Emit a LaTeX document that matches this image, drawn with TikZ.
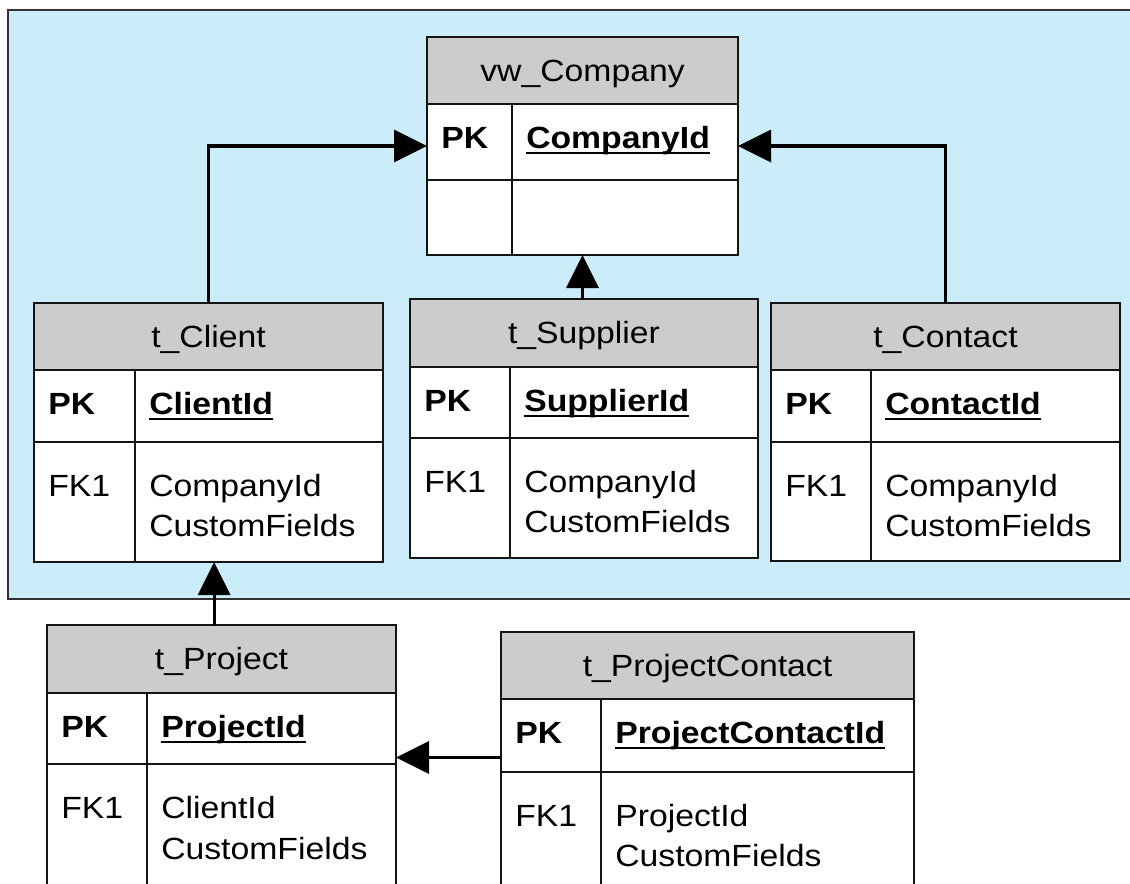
\documentclass[tikz,border=0pt]{standalone}
\usepackage{fontspec}
\setmainfont{Liberation Sans}[FakeStretch=1.1]
\usetikzlibrary{arrows.meta,fit}
\definecolor{bluebg}{RGB}{203,237,249}
\definecolor{hdrgray}{RGB}{204,204,204}
\definecolor{linec}{RGB}{20,20,20}
\definecolor{arealine}{RGB}{50,50,50}
\newcommand\ulbold[1]{\setbox0=\hbox{\bfseries #1}\rlap{\rule[-3.9pt]{\wd0}{1.5pt}}\box0}
\begin{document}
\begin{tikzpicture}[x=0.75pt, y=-0.75pt, font=\fontsize{23pt}{28pt}\selectfont,
  tbl/.style={draw=linec, line width=1.5pt, fill=white, inner sep=0pt, outer sep=0pt},
  hdr/.style={draw=linec, line width=1.5pt, fill=hdrgray, inner sep=0pt, outer sep=0pt},
  sep/.style={draw=linec, line width=1.5pt},
  txt/.style={inner sep=0pt, anchor=base west},
  ttl/.style={inner sep=0pt, anchor=base},
  conn/.style={draw=black, line width=2.5pt, -{Triangle[length=24.75pt,width=24pt]}},
]
\useasboundingbox (0,0) rectangle (1130,884);
\clip (0,0) rectangle (1130,884);
\node[draw=arealine, line width=1.5pt, fill=bluebg, fit={(8,10) (1145,599)}, inner sep=0pt, outer sep=0pt] (area) {};

% vw_Company
\node[tbl, fit={(427,37) (738,255)}] (company) {};
\node[hdr, fit={(427,37) (738,104)}] (company-h) {};
\draw[sep] (427,180) -- (738,180) (512,104) -- (512,255);
\node[ttl] (company-t) at (582.5,81.2) {vw\_Company};
\node[txt] (company-pk) at (441,148.5) {\bfseries PK};
\node[txt] (company-id) at (526,148.5) {\ulbold{CompanyId}};

% t_Client
\node[tbl, fit={(34,303) (383,562)}] (client) {};
\node[hdr, fit={(34,303) (383,370)}] (client-h) {};
\draw[sep] (34,442) -- (383,442) (135,370) -- (135,562);
\node[ttl] (client-t) at (208.5,347.2) {t\_Client};
\node[txt] (client-pk) at (48,414.5) {\bfseries PK};
\node[txt] (client-id) at (149,414.5) {\ulbold{ClientId}};
\node[txt] (client-fk) at (48,496) {FK1};
\node[txt] (client-f1) at (149,496) {CompanyId};
\node[txt] (client-f2) at (149,536.5) {CustomFields};

% t_Supplier
\node[tbl, fit={(410,299) (758,558)}] (supplier) {};
\node[hdr, fit={(410,299) (758,367)}] (supplier-h) {};
\draw[sep] (410,438) -- (758,438) (510,367) -- (510,558);
\node[ttl] (supplier-t) at (584,343.7) {t\_Supplier};
\node[txt] (supplier-pk) at (424,411.5) {\bfseries PK};
\node[txt] (supplier-id) at (524,411.5) {\ulbold{SupplierId}};
\node[txt] (supplier-fk) at (424,492) {FK1};
\node[txt] (supplier-f1) at (524,492) {CompanyId};
\node[txt] (supplier-f2) at (524,532.5) {CustomFields};

% t_Contact
\node[tbl, fit={(771,303) (1120,561)}] (contact) {};
\node[hdr, fit={(771,303) (1120,370)}] (contact-h) {};
\draw[sep] (771,442) -- (1120,442) (871,370) -- (871,561);
\node[ttl] (contact-t) at (945.5,347.2) {t\_Contact};
\node[txt] (contact-pk) at (785,414.5) {\bfseries PK};
\node[txt] (contact-id) at (885,414.5) {\ulbold{ContactId}};
\node[txt] (contact-fk) at (785,496) {FK1};
\node[txt] (contact-f1) at (885,496) {CompanyId};
\node[txt] (contact-f2) at (885,536.5) {CustomFields};

% t_Project
\node[tbl, fit={(47,625) (396,890)}] (project) {};
\node[hdr, fit={(47,625) (396,693)}] (project-h) {};
\draw[sep] (47,764) -- (396,764) (147,693) -- (147,890);
\node[ttl] (project-t) at (221.5,669.7) {t\_Project};
\node[txt] (project-pk) at (61,737.5) {\bfseries PK};
\node[txt] (project-id) at (161,737.5) {\ulbold{ProjectId}};
\node[txt] (project-fk) at (61,818.5) {FK1};
\node[txt] (project-f1) at (161,818.5) {ClientId};
\node[txt] (project-f2) at (161,859) {CustomFields};

% t_ProjectContact
\node[tbl, fit={(501,632) (914,890)}] (projcontact) {};
\node[hdr, fit={(501,632) (914,699)}] (projcontact-h) {};
\draw[sep] (501,772) -- (914,772) (601,699) -- (601,890);
\node[ttl] (projcontact-t) at (707.5,676.2) {t\_ProjectContact};
\node[txt] (projcontact-pk) at (515,743.5) {\bfseries PK};
\node[txt] (projcontact-id) at (615,743.5) {\ulbold{ProjectContactId}};
\node[txt] (projcontact-fk) at (515,826) {FK1};
\node[txt] (projcontact-f1) at (615,826) {ProjectId};
\node[txt] (projcontact-f2) at (615,866.5) {CustomFields};

% connectors
\draw[conn] (client.north) |- (company.west);
\draw[conn] (contact.north) |- (company.east);
\draw[conn] (supplier.north -| company.south) -- (company.south);
\coordinate (projup) at ([xshift=-5.5]project.north);
\draw[conn] (projup) -- (projup |- client.south);
\draw[conn] (projcontact.west |- project.east) -- (project.east);
\end{tikzpicture}
\end{document}
